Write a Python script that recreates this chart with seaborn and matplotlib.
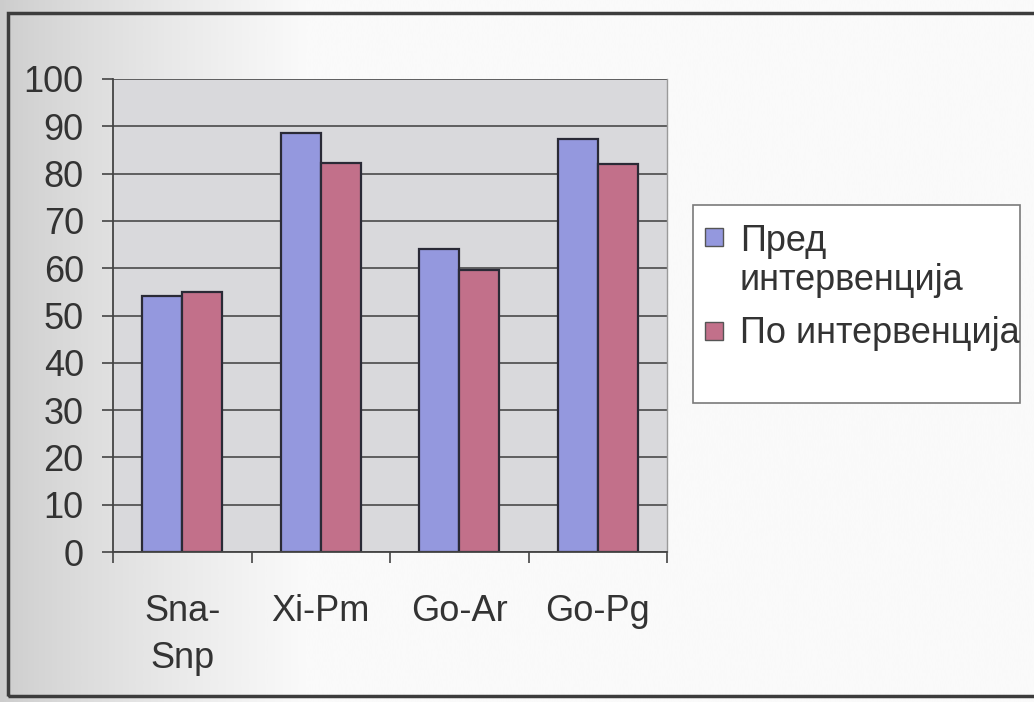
import numpy as np
import pandas as pd
import seaborn as sns
import matplotlib.pyplot as plt
from matplotlib.patches import Rectangle

# --- data -----------------------------------------------------------------
categories = ["Sna-\nSnp", "Xi-Pm", "Go-Ar", "Go-Pg"]
series_names = ["Пред\nинтервенција", "По интервенција"]
before_values = [54.2, 88.5, 64.1, 87.3]
after_values = [54.9, 82.3, 59.6, 82.0]
y_ticks = [0, 10, 20, 30, 40, 50, 60, 70, 80, 90, 100]

df = pd.DataFrame({
    "measure": categories * 2,
    "series": [series_names[0]] * len(categories) + [series_names[1]] * len(categories),
    "value": before_values + after_values,
})

# --- style ----------------------------------------------------------------
sns.set_theme(style="white")
plt.rcParams["font.family"] = ["Liberation Sans", "DejaVu Sans"]

blue = "#9498DE"
red = "#C2708A"
palette = [blue, red]
text_color = "#333333"
FS = 26

W, H = 1034, 702
fig = plt.figure(figsize=(W / 100, H / 100), dpi=100)


def fx(px):
    return px / W


def fy(py):
    return 1 - py / H


# soft page shading behind the chart
bg = fig.add_axes([0, 0, 1, 1], zorder=-10)
bg.axis("off")
x = np.linspace(0, 1, 400)
shade = 0.80 + 0.18 * np.clip(x / 0.30, 0, 1) ** 0.8
bg.imshow(shade[None, :], cmap="gray", vmin=0, vmax=1, aspect="auto",
          extent=[0, 1, 0, 1], interpolation="bicubic")

# chart border
fig.patches.append(Rectangle((fx(8), fy(696)), 1.2, (696 - 13) / H,
                             transform=fig.transFigure, fill=False,
                             edgecolor="#3c3c3c", linewidth=2.5, zorder=-5))

# --- plot area ------------------------------------------------------------
ax = fig.add_axes([fx(113), fy(552), (667 - 113) / W, (552 - 79) / H])
sns.barplot(data=df, x="measure", y="value", hue="series",
            palette=palette, saturation=1, width=0.578, gap=0,
            edgecolor="#2a2a36", linewidth=1.6, legend=False, ax=ax)

ax.set_facecolor("#d9d9dc")
ax.set_xlim(-0.5, len(categories) - 0.5)
ax.set_ylim(0, 100)
ax.set_xlabel("")
ax.set_ylabel("")

ax.set_yticks(y_ticks)
ax.set_yticklabels([str(v) for v in y_ticks])
ax.yaxis.grid(True, color="#4a4a4a", linewidth=1.2)
ax.set_axisbelow(True)

# category boundaries carry the tick marks, centres carry the labels
ax.set_xticks(np.arange(-0.5, len(categories), 1.0))
ax.set_xticklabels([""] * (len(categories) + 1))
ax.set_xticks(np.arange(len(categories)), minor=True)
ax.set_xticklabels(categories, minor=True, fontsize=FS, color=text_color,
                   linespacing=1.45, va="top")
ax.tick_params(axis="x", which="major", direction="out", length=8,
               width=1.2, color="#444444", bottom=True)
ax.tick_params(axis="x", which="minor", length=0, pad=30, bottom=True)
ax.tick_params(axis="y", direction="out", length=8, width=1.2,
               color="#444444", pad=13, labelsize=FS, labelcolor=text_color,
               left=True)

for side in ("left", "bottom"):
    ax.spines[side].set_color("#444444")
    ax.spines[side].set_linewidth(1.3)
ax.spines["right"].set_color("#9a9a9a")
ax.spines["right"].set_linewidth(1.0)
ax.spines["top"].set_visible(False)

# --- legend: box, colour keys aligned with the first line of each label ----
fig.patches.append(Rectangle((fx(693), fy(403)), (1020 - 693) / W,
                             (403 - 205) / H, transform=fig.transFigure,
                             facecolor="white", edgecolor="#7a7a7a",
                             linewidth=1.2, zorder=-4))
key_tops = [228, 322]
last_line_baselines = [290, 343]
for color, name, top, base in zip(palette, series_names, key_tops, last_line_baselines):
    fig.patches.append(Rectangle((fx(705), fy(top + 18)), 18 / W, 18 / H,
                                 transform=fig.transFigure, facecolor=color,
                                 edgecolor="#555555", linewidth=1.0))
    fig.text(fx(740), fy(base), name, fontsize=FS, color=text_color,
             ha="left", va="baseline", linespacing=1.14)

fig.savefig("out.png", dpi=100)
